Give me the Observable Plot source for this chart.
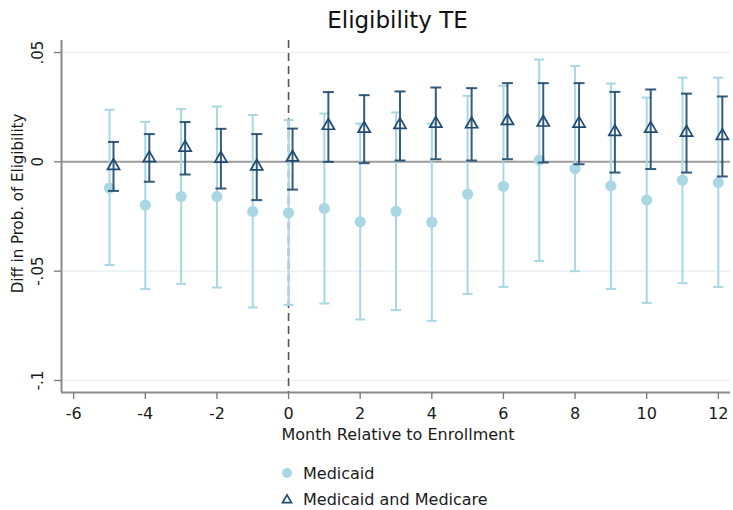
<!DOCTYPE html>
<html>
<head>
<meta charset="utf-8">
<script src="https://cdn.jsdelivr.net/npm/d3@7"></script>
<script src="https://cdn.jsdelivr.net/npm/@observablehq/plot@0.6"></script>
<style>
  body { margin: 0; background: #fff; font-family: "DejaVu Sans", sans-serif; }
  #wrap { position: relative; width: 733px; height: 510px; background: #fff; }
  #legend { position: absolute; left: 280px; top: 460px; font-size: 16px; color: #1a1a1a; }
  .row { display: flex; align-items: center; height: 26px; }
  .row svg { margin-right: 9px; display: block; }
</style>
</head>
<body>
<div id="wrap"><div id="chart"></div><div id="legend"></div></div>
<script>
// ---- data ----
const months = [-5, -4, -3, -2, -1, 0, 1, 2, 3, 4, 5, 6, 7, 8, 9, 10, 11, 12];

const medicaidEst = [-0.0120, -0.0198, -0.0159, -0.0159, -0.0227, -0.0233, -0.0213, -0.0274, -0.0226, -0.0276, -0.0148, -0.0112, 0.0008, -0.0031, -0.0110, -0.0175, -0.0084, -0.0095];
const medicaidLo  = [-0.0472, -0.0582, -0.0558, -0.0575, -0.0666, -0.0654, -0.0648, -0.0721, -0.0678, -0.0727, -0.0604, -0.0572, -0.0453, -0.0500, -0.0582, -0.0645, -0.0555, -0.0572];
const medicaidHi  = [0.0238, 0.0183, 0.0241, 0.0253, 0.0214, 0.0191, 0.0221, 0.0175, 0.0226, 0.0175, 0.0302, 0.0348, 0.0468, 0.0438, 0.0358, 0.0294, 0.0385, 0.0385];

const dualEst = [-0.0018, 0.0017, 0.0065, 0.0015, -0.0021, 0.0020, 0.0165, 0.0152, 0.0169, 0.0175, 0.0172, 0.0187, 0.0180, 0.0175, 0.0137, 0.0152, 0.0134, 0.0119];
const dualLo  = [-0.0133, -0.0091, -0.0058, -0.0122, -0.0175, -0.0127, 0.0000, -0.0006, 0.0006, 0.0012, 0.0006, 0.0012, -0.0003, -0.0011, -0.0049, -0.0033, -0.0049, -0.0067];
const dualHi  = [0.0091, 0.0127, 0.0182, 0.0151, 0.0127, 0.0152, 0.0319, 0.0305, 0.0322, 0.0340, 0.0337, 0.0360, 0.0360, 0.0360, 0.0320, 0.0331, 0.0312, 0.0299];

const seriesNames = ["Medicaid", "Medicaid and Medicare"];
const xTicks = [-6, -4, -2, 0, 2, 4, 6, 8, 10, 12];
const yTicks = [0.05, 0, -0.05, -0.1];
const yTickLabels = [".05", "0", "-.05", "-.1"];
const xDomain = [-6.34, 12.34];
const yDomain = [-0.1055, 0.0555];
const titleText = "Eligibility TE";
const xLabel = "Month Relative to Enrollment";
const yLabel = "Diff in Prob. of Eligibility";
const eventMonth = [0];

// ---- styling ----
const light = "#a9d7e4";
const navy = "#1f4a70";
const axisGray = "#8a8a8a";
const font = "DejaVu Sans";

const medicaid = months.map((m, i) => ({month: m, est: medicaidEst[i], lo: medicaidLo[i], hi: medicaidHi[i]}));
const dual = months.map((m, i) => ({month: m, est: dualEst[i], lo: dualLo[i], hi: dualHi[i]}));

const capSymbol = {
  draw(ctx, size) {
    const r = Math.sqrt(size / Math.PI);
    ctx.moveTo(-r, 0);
    ctx.lineTo(r, 0);
  }
};

const off = 4; // horizontal offset of second series (px)

const chart = Plot.plot({
  width: 733,
  height: 450,
  marginTop: 40,
  marginLeft: 61,
  marginRight: 3,
  marginBottom: 58,
  style: {fontFamily: font, fontSize: "16px", color: "#1a1a1a", background: "#fff"},
  x: {domain: xDomain},
  y: {domain: yDomain},
  marks: [
    Plot.ruleY(yTicks.filter(v => v !== 0), {stroke: "#e9f1f4", strokeWidth: 1.5}),
    Plot.ruleY([0], {stroke: "#9c9c9c", strokeWidth: 2}),
    Plot.ruleX(eventMonth, {stroke: "#555", strokeWidth: 1.6, strokeDasharray: "8,5"}),

    // Medicaid
    Plot.ruleX(medicaid, {x: "month", y1: "lo", y2: "hi", stroke: light, strokeWidth: 2}),
    Plot.dot(medicaid, {x: "month", y: "lo", symbol: capSymbol, r: 5, stroke: light, strokeWidth: 2}),
    Plot.dot(medicaid, {x: "month", y: "hi", symbol: capSymbol, r: 5, stroke: light, strokeWidth: 2}),
    Plot.dot(medicaid, {x: "month", y: "est", r: 5.6, fill: light, stroke: null}),

    // Medicaid and Medicare
    Plot.ruleX(dual, {x: "month", y1: "lo", y2: "hi", stroke: navy, strokeWidth: 2, strokeOpacity: 0.9, dx: off}),
    Plot.dot(dual, {x: "month", y: "lo", symbol: capSymbol, r: 5.5, stroke: navy, strokeWidth: 2, strokeOpacity: 0.9, dx: off}),
    Plot.dot(dual, {x: "month", y: "hi", symbol: capSymbol, r: 5.5, stroke: navy, strokeWidth: 2, strokeOpacity: 0.9, dx: off}),
    Plot.dot(dual, {x: "month", y: "est", symbol: "triangle", r: 4.5, stroke: navy, strokeWidth: 1.7, fill: "none", dx: off}),

    // axes
    Plot.ruleX([xDomain[0]], {stroke: axisGray, strokeWidth: 2}),
    Plot.ruleY([yDomain[0]], {stroke: axisGray, strokeWidth: 2}),
    Plot.axisX({ticks: xTicks, tickSize: 7, tickPadding: 8, tickFormat: d => String(d), stroke: "#777", strokeWidth: 1.3, fontSize: 16, label: null}),
    Plot.axisY({ticks: yTicks, tickSize: 7, tickFormat: () => "", stroke: "#777", strokeWidth: 1.3, label: null}),
    Plot.text(yTicks, {x: xDomain[0], y: d => d, text: (d, i) => yTickLabels[i], rotate: -90, dx: -23, fontSize: 15, fill: "#1a1a1a", textAnchor: "middle", lineAnchor: "middle"}),

    // titles
    Plot.text([titleText], {frameAnchor: "top", dy: -20, dx: 1.5, fontSize: 23, fill: "#111", textAnchor: "middle", lineAnchor: "middle"}),
    Plot.text([xLabel], {frameAnchor: "bottom", dy: 42, dx: 2, fontSize: 16, fill: "#1a1a1a", textAnchor: "middle", lineAnchor: "middle"}),
    Plot.text([yLabel], {frameAnchor: "left", rotate: -90, dx: -43, dy: -13, fontSize: 15, fill: "#1a1a1a", textAnchor: "middle", lineAnchor: "middle"})
  ]
});
document.getElementById("chart").appendChild(chart);

// ---- legend ----
const legend = document.getElementById("legend");
const symbols = [
  `<svg width="14" height="14"><circle cx="7" cy="7" r="5" fill="${light}"/></svg>`,
  `<svg width="14" height="14"><path d="${d3.symbol(d3.symbolTriangle, 34)()}" transform="translate(7,8)" fill="none" stroke="${navy}" stroke-width="1.7"/></svg>`
];
seriesNames.forEach((name, i) => {
  const row = document.createElement("div");
  row.className = "row";
  row.innerHTML = symbols[i] + `<span>${name}</span>`;
  legend.appendChild(row);
});
</script>
</body>
</html>
